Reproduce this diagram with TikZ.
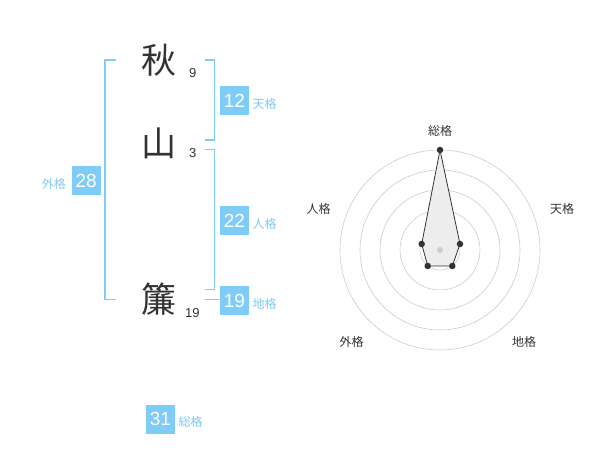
\documentclass[tikz,border=0pt]{standalone}
\usepackage{fontspec}
\setmainfont{Liberation Sans}
\newfontfamily\cjk{Noto Sans CJK JP}
\definecolor{boxblue}{HTML}{80CCF8}
\definecolor{lblblue}{HTML}{7FC8F0}
\definecolor{ink}{HTML}{333333}
\definecolor{ring}{HTML}{CCCCCC}
\begin{document}
\begin{tikzpicture}[x=1pt,y=-1pt,
  kanji/.style={font=\cjk\fontsize{35}{35}\selectfont, text=ink, inner sep=0pt},
  stroke/.style={font=\fontsize{13}{13}\selectfont, text=ink, inner sep=0pt},
  numbox/.style={fill=boxblue, text=white, minimum width=29pt, minimum height=29pt, inner sep=0pt, font=\fontsize{19}{19}\selectfont},
  kaku/.style={text=lblblue, font=\cjk\fontsize{12}{12}\selectfont, inner sep=0pt},
  brk/.style={draw=boxblue, line width=1.5pt},
  rlabel/.style={text=ink, font=\cjk\fontsize{12}{12}\selectfont, inner sep=0pt},
  dot/.style={circle, fill=ink, inner sep=0pt, minimum size=6.5pt}]
\useasboundingbox (0,0) rectangle (600,470);
% kanji and stroke counts
\node[kanji] (k1) at (158.5,60) {秋};
\node[stroke] (s1) at (192.7,72.7) {9};
\node[kanji] (k2) at (158.5,143.5) {山};
\node[stroke] (s2) at (192.7,153.3) {3};
\node[kanji] (k3) at (158.5,299) {簾};
\node[stroke] (s3) at (192.3,312.7) {19};
% brackets
\coordinate (oT) at (116,60); \coordinate (oB) at (116,299.3);
\draw[brk] (oT) -- (105,60) -- (105,299.3) -- (oB);
\coordinate (tT) at (205,60); \coordinate (tB) at (205,140);
\draw[brk] (tT) -- (214.3,60) -- (214.3,140) -- (tB);
\coordinate (jT) at (205,149.3); \coordinate (jB) at (205,289.3);
\draw[brk] (jT) -- (214.3,149.3) -- (214.3,289.3) -- (jB);
\coordinate (cL) at (205,299.3); \coordinate (cR) at (219,299.3);
\draw[brk] (cL) -- (cR);
% number boxes
\node[numbox] (n12) at (234.5,100.5) {12};
\node[kaku, anchor=west] (l12) at (252.5,103.5) {天格};
\node[numbox] (n22) at (234.5,220.5) {22};
\node[kaku, anchor=west] (l22) at (252.5,223.5) {人格};
\node[numbox] (n19) at (234.5,300.5) {19};
\node[kaku, anchor=west] (l19) at (252.5,303.5) {地格};
\node[numbox] (n28) at (86.2,180.5) {28};
\node[kaku, anchor=east] (l28) at (66,183.5) {外格};
\node[numbox] (n31) at (160.5,419.3) {31};
\node[kaku, anchor=west] (l31) at (178.5,422) {総格};
% radar
\coordinate (C) at (440,250);
\foreach \r in {20,40,60,80,100} \draw[ring, line width=0.6pt] (C) circle (\r);
\coordinate (pS) at (440,150);
\coordinate (pT) at (460,244);
\coordinate (pC) at (452.3,266);
\coordinate (pG) at (427.7,266);
\coordinate (pJ) at (421.7,244);
\draw[ink, fill=black!7, line width=0.8pt] (pS) -- (pT) -- (pC) -- (pG) -- (pJ) -- cycle;
\node[circle, fill=ring, inner sep=0pt, minimum size=6pt] (cd) at (C) {};
\foreach \p in {pS,pT,pC,pG,pJ} \node[dot] at (\p) {};
\node[rlabel] (rS) at (440,130.5) {総格};
\node[rlabel] (rT) at (562,209) {天格};
\node[rlabel] (rJ) at (318.5,209) {人格};
\node[rlabel] (rG) at (351.7,342) {外格};
\node[rlabel] (rC) at (524,342) {地格};
\end{tikzpicture}
\end{document}
